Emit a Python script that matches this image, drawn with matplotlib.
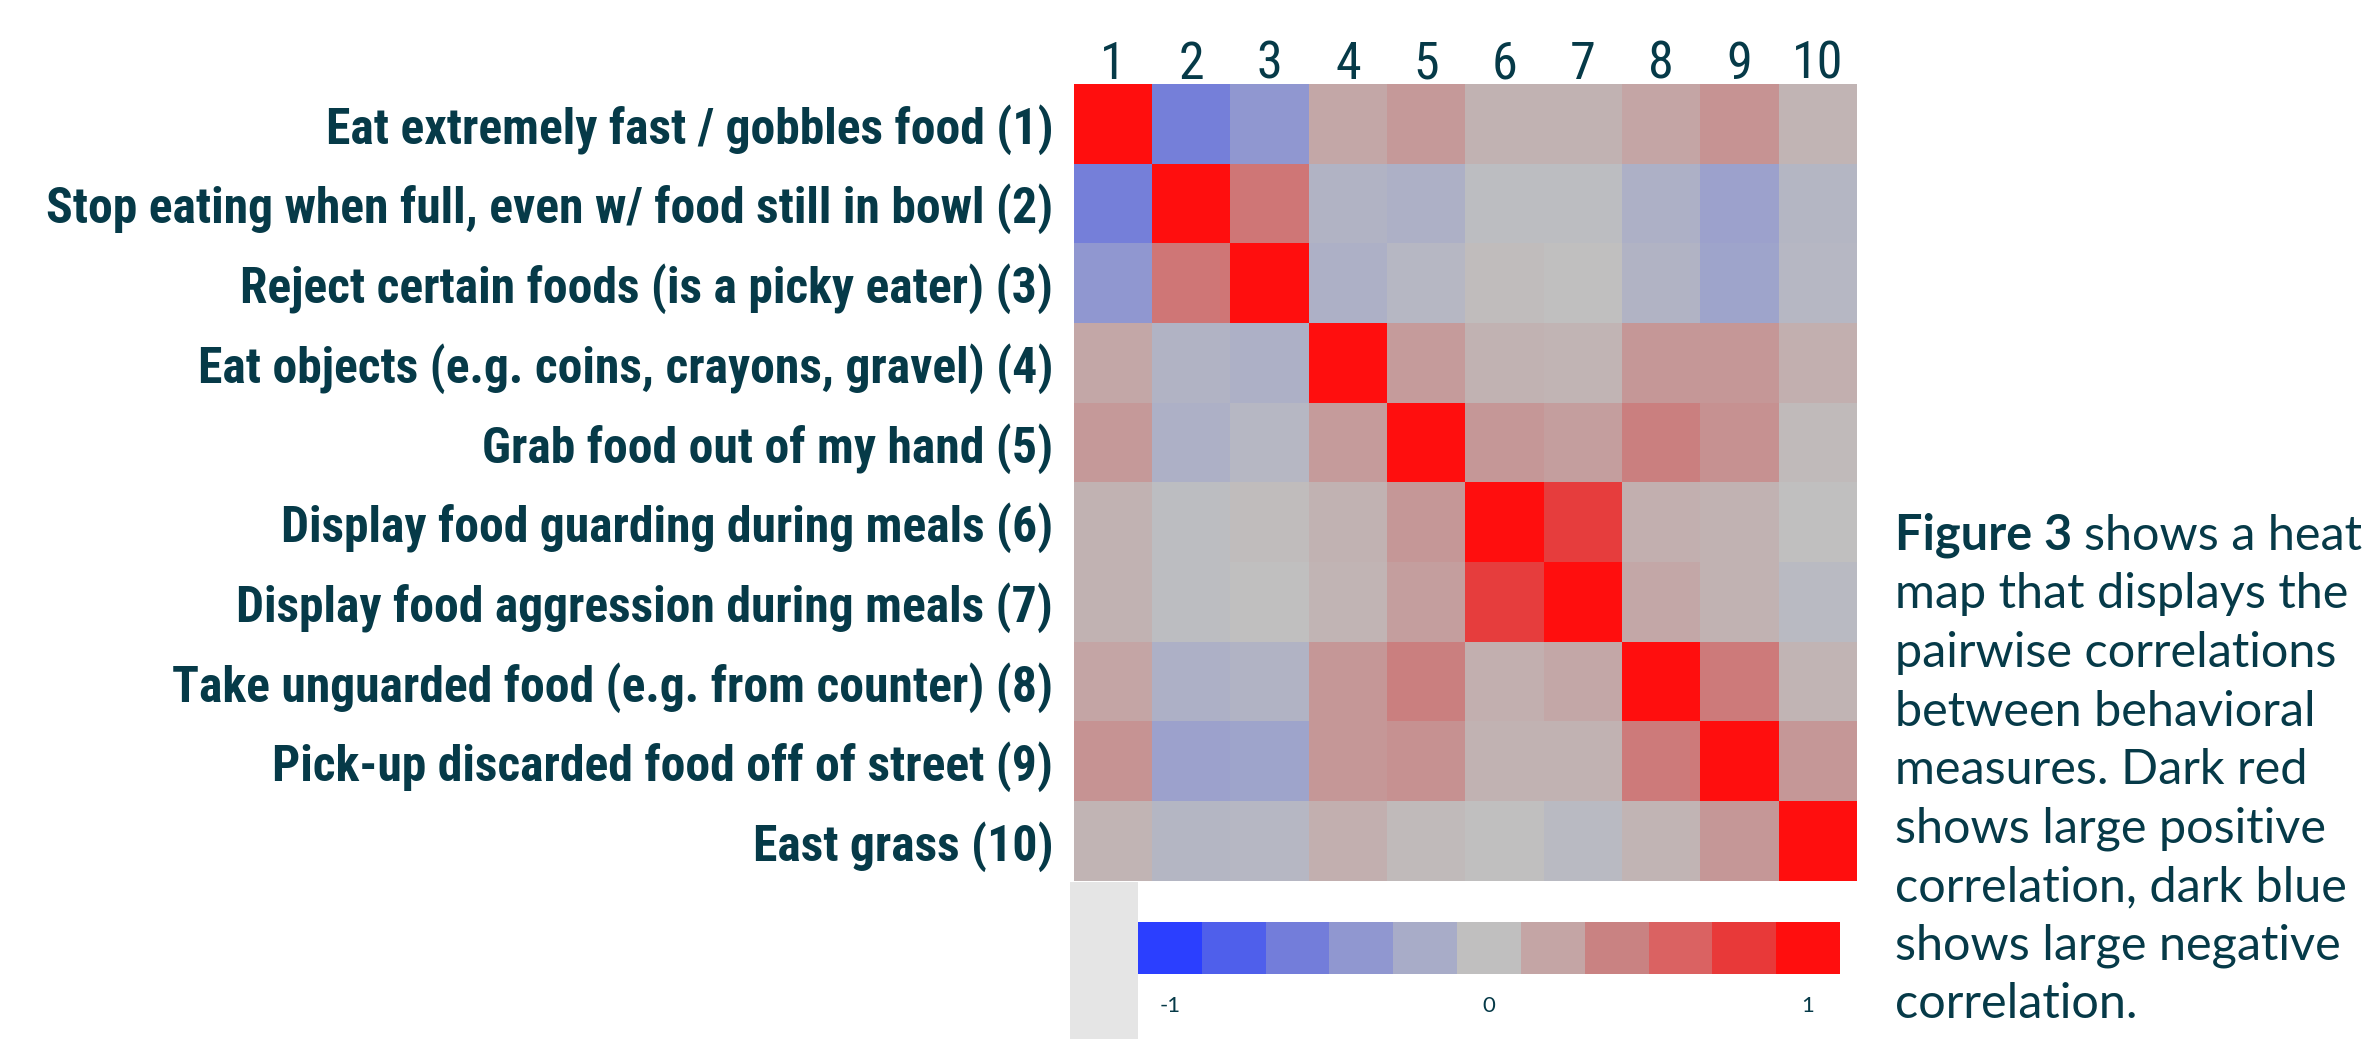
import matplotlib.pyplot as plt
import numpy as np
from matplotlib import font_manager
from matplotlib.colors import LinearSegmentedColormap
from matplotlib.patches import Rectangle

# behaviour items on the rows, numbered columns on top
behaviours = [
    'Eat extremely fast / gobbles food (1)',
    'Stop eating when full, even w/ food still in bowl (2)',
    'Reject certain foods (is a picky eater) (3)',
    'Eat objects (e.g. coins, crayons, gravel) (4)',
    'Grab food out of my hand (5)',
    'Display food guarding during meals (6)',
    'Display food aggression during meals (7)',
    'Take unguarded food (e.g. from counter) (8)',
    'Pick-up discarded food off of street (9)',
    'East grass (10)',
]
col_labels = [str(i) for i in range(1, 11)]

# pairwise correlations between the items
corr = np.array([
    [1.00, -0.58, -0.40, 0.18, 0.27, 0.10, 0.10, 0.20, 0.30, 0.08],
    [-0.58, 1.00, 0.47, -0.12, -0.15, -0.03, -0.03, -0.15, -0.30, -0.10],
    [-0.40, 0.47, 1.00, -0.15, -0.08, 0.03, 0.00, -0.12, -0.28, -0.08],
    [0.18, -0.12, -0.15, 1.00, 0.25, 0.10, 0.08, 0.28, 0.28, 0.12],
    [0.27, -0.15, -0.08, 0.25, 1.00, 0.28, 0.24, 0.42, 0.32, 0.04],
    [0.10, -0.03, 0.03, 0.10, 0.28, 1.00, 0.78, 0.12, 0.10, 0.00],
    [0.10, -0.03, 0.00, 0.08, 0.24, 0.78, 1.00, 0.18, 0.10, -0.05],
    [0.20, -0.15, -0.12, 0.28, 0.42, 0.12, 0.18, 1.00, 0.45, 0.08],
    [0.30, -0.30, -0.28, 0.28, 0.32, 0.10, 0.10, 0.45, 1.00, 0.28],
    [0.08, -0.10, -0.08, 0.12, 0.04, 0.00, -0.05, 0.08, 0.28, 1.00],
])

# colour scale from -1 (blue) through grey to +1 (red)
scale_colors = ['#2B3FFF', '#5060EB', '#737DDA', '#9198D0', '#A8ACC8', '#C0C0C0',
                '#C4A5A5', '#C98383', '#DA6262', '#E83A3A', '#FF0E0E']
scale_values = np.linspace(-1, 1, len(scale_colors))
scale_ticks = [-1, 0, 1]

caption_head = 'Figure 3'
caption_lines = [
    'shows a heat',
    'map that displays the',
    'pairwise correlations',
    'between behavioral',
    'measures. Dark red',
    'shows large positive',
    'correlation, dark blue',
    'shows large negative',
    'correlation.',
]

ink = '#063A48'
W, H = 2364, 1039
cmap = LinearSegmentedColormap.from_list('corr', scale_colors)


def first_font(names):
    for n in names:
        try:
            font_manager.findfont(n, fallback_to_default=False)
            return n
        except ValueError:
            pass
    return 'DejaVu Sans'


narrow = first_font(['Liberation Sans Narrow', 'Roboto Condensed', 'Lato'])
plt.rcParams['font.family'] = ['Lato', 'DejaVu Sans']
fig = plt.figure(figsize=(W / 100, H / 100), dpi=100)


def box(x0, y0, x1, y1):
    return [x0 / W, 1 - y1 / H, (x1 - x0) / W, (y1 - y0) / H]


ax = fig.add_axes(box(1074, 84, 1857, 881))
ax.imshow(corr, cmap=cmap, vmin=-1, vmax=1, aspect='auto', interpolation='nearest')
ax.xaxis.tick_top()
ax.set_xticks(range(len(col_labels)))
ax.set_xticklabels(col_labels, fontsize=30, color=ink, family=[narrow, 'Lato'])
ax.set_yticks(range(len(behaviours)))
ax.set_yticklabels(behaviours, fontsize=26, fontweight='bold', color=ink,
                   family=[narrow, 'Lato'])
ax.tick_params(length=0)
ax.tick_params(axis='x', pad=-4)
ax.tick_params(axis='y', pad=15)
for s in ax.spines.values():
    s.set_visible(False)

# size the row labels so the longest one reaches the left margin
fig.canvas.draw()
renderer = fig.canvas.get_renderer()
widest = max(t.get_window_extent(renderer).width for t in ax.get_yticklabels())
row_size = 26 * 1010 / widest
for t in ax.get_yticklabels():
    t.set_fontsize(row_size)
# keep the numbers at about the same cap height
for t in ax.get_xticklabels():
    t.set_fontsize(row_size * 1.05)

# grey tab left of the scale
fig.add_artist(Rectangle((1070 / W, 0), 68 / W, 157 / H, transform=fig.transFigure,
                         facecolor='#E5E5E5', edgecolor='none'))

cax = fig.add_axes(box(1138, 922, 1840, 974))
cax.imshow(scale_values[None, :], cmap=cmap, vmin=-1, vmax=1, aspect='auto',
           interpolation='nearest')
cax.set_yticks([])
cax.set_xticks([list(np.round(scale_values, 2)).index(t) for t in scale_ticks])
cax.set_xticklabels([str(t) for t in scale_ticks], fontsize=16, color=ink)
cax.tick_params(length=0, pad=16)
for s in cax.spines.values():
    s.set_visible(False)

# caption to the right
x_cap = 1895 / W
y0, step = 550, 58.5
head = fig.text(x_cap, 1 - y0 / H, caption_head + ' ', fontsize=35, fontweight='bold',
                color=ink, va='baseline')
head_w = head.get_window_extent(renderer).width
fig.text(x_cap + head_w / W, 1 - y0 / H, caption_lines[0], fontsize=35, color=ink,
         va='baseline')
for i, line in enumerate(caption_lines[1:], start=1):
    fig.text(x_cap, 1 - (y0 + step * i) / H, line, fontsize=35, color=ink,
             va='baseline')

fig.savefig('out.png', dpi=100)
